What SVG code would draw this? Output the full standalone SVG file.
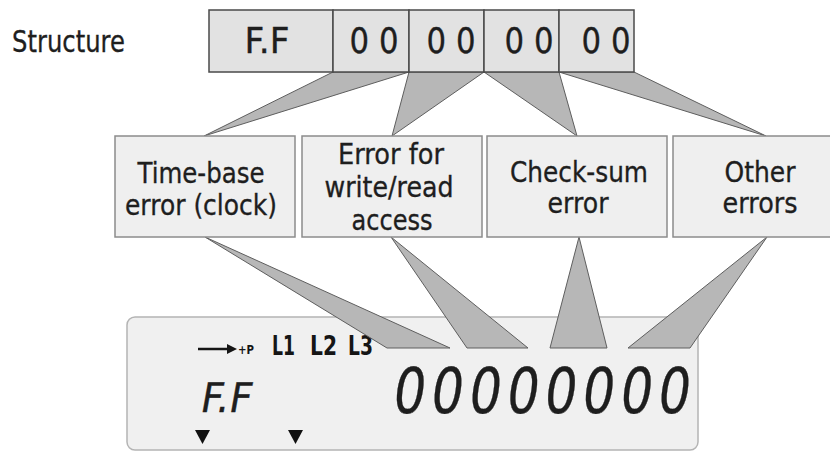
<svg xmlns="http://www.w3.org/2000/svg" width="830" height="454" viewBox="0 0 830 454">
  <style>
    .txt { font-family: "DejaVu Sans", "Liberation Sans", sans-serif; fill: #1e1e1e; stroke: #1e1e1e; stroke-width: 0.35; }
    .big { font-size: 35px; }
    .mid { font-size: 29px; }
    .cell { fill: #e2e2e2; stroke: #4a4a4a; stroke-width: 1.5; }
    .box { fill: #efefef; stroke: #8c8c8c; stroke-width: 1.5; }
    .wedge { fill: #b7b7b7; stroke: #5e5e5e; stroke-width: 1; stroke-linejoin: round; }
    .lcdlbl { font-family: "DejaVu Sans", "Liberation Sans", sans-serif; font-weight: bold; fill: #151515; }
  </style>

  <rect width="830" height="454" fill="#ffffff"/>

  <text class="txt" x="12" y="52" font-size="31" textLength="113" lengthAdjust="spacingAndGlyphs">Structure</text>

  <!-- LCD display panel -->
  <g id="lcd">
    <rect x="127" y="317" width="571" height="133" rx="8" ry="8" fill="#f0f0f0" stroke="#b4b4b4" stroke-width="1.5"/>
    <line x1="198" y1="349" x2="228" y2="349" stroke="#151515" stroke-width="2.5"/>
    <polygon points="227,344 237,349 227,354" fill="#151515"/>
    <text class="lcdlbl" x="238" y="354" font-size="13" textLength="16" lengthAdjust="spacingAndGlyphs">+P</text>
    <text class="lcdlbl" x="272" y="355" font-size="26" textLength="23" lengthAdjust="spacingAndGlyphs">L1</text>
    <text class="lcdlbl" x="310" y="355" font-size="26" textLength="27" lengthAdjust="spacingAndGlyphs">L2</text>
    <text class="lcdlbl" x="348" y="355" font-size="26" textLength="25" lengthAdjust="spacingAndGlyphs">L3</text>
    <text class="txt" transform="translate(199,412) skewX(-10)" x="0" y="0" font-size="41" textLength="51" lengthAdjust="spacingAndGlyphs" fill="#111" stroke="#111" stroke-width="0.6">F.F</text>
    <text class="txt" transform="translate(391,413) skewX(-8) scale(0.8,1)" x="0" y="0" font-size="63" letter-spacing="7.2" fill="#111" stroke="#111" stroke-width="2.4">00000000</text>
    <polygon points="195,430 210,430 202.5,444" fill="#111"/>
    <polygon points="288,430 303,430 295.5,444" fill="#111"/>
  </g>

  <!-- Connectors (wedges) -->
  <g id="connectors">
    <polygon class="wedge" points="333,72 409,72 204,136"/>
    <polygon class="wedge" points="409,72 484,72 392,136"/>
    <polygon class="wedge" points="484,72 559,72 577,136"/>
    <polygon class="wedge" points="559,72 634,72 766,136"/>
    <polygon class="wedge" points="205,237 387,348 450,348"/>
    <polygon class="wedge" points="391,237 467,348 528,348"/>
    <polygon class="wedge" points="579,237 550,348 607,348"/>
    <polygon class="wedge" points="767,237 628,348 690,348"/>
  </g>

  <!-- Structure register -->
  <g id="structure">
    <rect class="cell" x="209" y="10" width="124" height="62"/>
    <rect class="cell" x="333" y="10" width="76" height="62"/>
    <rect class="cell" x="409" y="10" width="75" height="62"/>
    <rect class="cell" x="484" y="10" width="75" height="62"/>
    <rect class="cell" x="559" y="10" width="75" height="62"/>
    <text class="txt big" x="267" y="53" text-anchor="middle" textLength="45" lengthAdjust="spacingAndGlyphs">F.F</text>
    <text class="txt big" x="374" y="53" text-anchor="middle" textLength="49" lengthAdjust="spacingAndGlyphs">0 0</text>
    <text class="txt big" x="451" y="53" text-anchor="middle" textLength="49" lengthAdjust="spacingAndGlyphs">0 0</text>
    <text class="txt big" x="529" y="53" text-anchor="middle" textLength="49" lengthAdjust="spacingAndGlyphs">0 0</text>
    <text class="txt big" x="606" y="53" text-anchor="middle" textLength="49" lengthAdjust="spacingAndGlyphs">0 0</text>
  </g>

  <g id="timebase">
    <rect class="box" x="115" y="136" width="180" height="101"/>
    <text class="txt mid" x="201" y="183" text-anchor="middle" textLength="127" lengthAdjust="spacingAndGlyphs">Time-base</text>
    <text class="txt mid" x="201" y="215" text-anchor="middle" textLength="152" lengthAdjust="spacingAndGlyphs">error (clock)</text>
  </g>

  <g id="writeread">
    <rect class="box" x="302" y="136" width="180" height="101"/>
    <text class="txt mid" x="391" y="164" text-anchor="middle" textLength="106" lengthAdjust="spacingAndGlyphs">Error for</text>
    <text class="txt mid" x="389" y="197" text-anchor="middle" textLength="129" lengthAdjust="spacingAndGlyphs">write/read</text>
    <text class="txt mid" x="392" y="230" text-anchor="middle" textLength="81" lengthAdjust="spacingAndGlyphs">access</text>
  </g>

  <g id="checksum">
    <rect class="box" x="487" y="136" width="180" height="101"/>
    <text class="txt mid" x="579" y="182" text-anchor="middle" textLength="138" lengthAdjust="spacingAndGlyphs">Check-sum</text>
    <text class="txt mid" x="578" y="213" text-anchor="middle" textLength="61" lengthAdjust="spacingAndGlyphs">error</text>
  </g>

  <g id="other">
    <rect class="box" x="673" y="136" width="180" height="101"/>
    <text class="txt mid" x="760" y="182" text-anchor="middle" textLength="71" lengthAdjust="spacingAndGlyphs">Other</text>
    <text class="txt mid" x="760" y="213" text-anchor="middle" textLength="75" lengthAdjust="spacingAndGlyphs">errors</text>
  </g>
</svg>
